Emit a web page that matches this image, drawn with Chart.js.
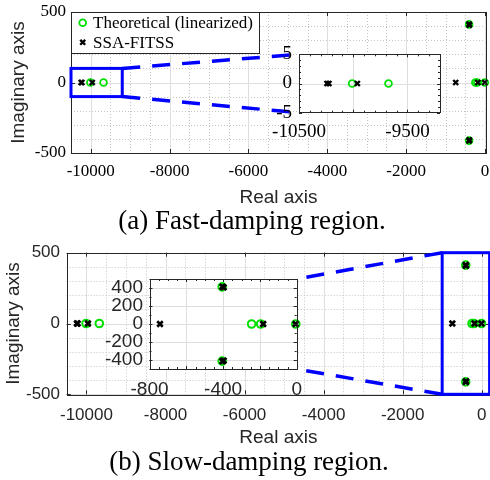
<!DOCTYPE html>
<html><head><meta charset="utf-8">
<script src="https://cdn.jsdelivr.net/npm/chart.js@4.4.0/dist/chart.umd.min.js"></script>
<style>
html,body{margin:0;padding:0;background:#fff;}
#wrap{position:relative;width:490px;height:480px;overflow:hidden;background:#fff;}
canvas{position:absolute;}
</style></head><body><div id="wrap">
<canvas id="mainA"></canvas>
<canvas id="mainB"></canvas>
<canvas id="insetA"></canvas>
<canvas id="insetB"></canvas>
</div>
<script>
// ---------------- data ----------------
const seriesNames = ['Theoretical (linearized)', 'SSA-FITSS'];
const theoReal = [-10010, -9675, -405, -405, -245, -196, -5];
const theoImag = [0, 0, 412, -412, 0, 0, 0];
const ssaReal = [-10242, -10224, -9962, -743, -404, -397, -404, -397, -182, -6];
const ssaImag = [0, 0, 0, 0, 414, 407, -414, -407, 0, 0];
const xTicksMain = [-10000, -8000, -6000, -4000, -2000, 0];
const yTicksMain = [-500, 0, 500];
const xTicksInsetA = [-10500, -9500];
const yTicksInsetA = [-5, 0, 5];
const xTicksInsetB = [-800, -400, 0];
const yTicksInsetB = [-400, -200, 0, 200, 400];
const captions = ['(a) Fast-damping region.', '(b) Slow-damping region.'];
const axisTitles = ['Real axis', 'Imaginary axis'];

// ---------------- styling ----------------
const SERIF = 'Liberation Serif';
const SANS = 'Liberation Sans';
const GREEN = '#00e000';
const BLUE = '#0000ff';
const AXC = '#262626';
Chart.defaults.font.family = SANS;

const box = {
  mainA: {left: 0, top: 0, w: 490, h: 240},
  mainB: {left: 0, top: 240, w: 490, h: 240},
  insetA: {left: 270, top: 45, w: 178, h: 95},
  insetB: {left: 95, top: 270, w: 212, h: 130}
};
for (const id in box) {
  const c = document.getElementById(id), b = box[id];
  c.width = b.w; c.height = b.h;
  c.style.left = b.left + 'px'; c.style.top = b.top + 'px';
}

const range = (a, b, s) => { const r = []; for (let v = a; v <= b + 1e-9; v += s) r.push(v); return r; };
const toXY = (re, im) => re.map((v, i) => ({x: v, y: im[i]}));

// --------- plugin: MATLAB-like axes (grid, frame, ticks) ---------
const axesPlugin = {
  id: 'matlabAxes',
  beforeDatasetsDraw(chart, args, o) {
    const {ctx, chartArea: a} = chart;
    const xs = chart.scales.x, ys = chart.scales.y;
    ctx.save();
    ctx.fillStyle = '#ffffff';
    ctx.fillRect(a.left, a.top, a.right - a.left, a.bottom - a.top);
    ctx.lineWidth = 1;
    const vl = (v) => { const p = Math.round(xs.getPixelForValue(v)) + 0.5; ctx.beginPath(); ctx.moveTo(p, a.top); ctx.lineTo(p, a.bottom); ctx.stroke(); };
    const hl = (v) => { const p = Math.round(ys.getPixelForValue(v)) + 0.5; ctx.beginPath(); ctx.moveTo(a.left, p); ctx.lineTo(a.right, p); ctx.stroke(); };
    ctx.strokeStyle = '#c4c4c4'; ctx.setLineDash([1, 2]);
    (o.xMinor || []).forEach(vl); (o.yMinor || []).forEach(hl);
    ctx.strokeStyle = '#dedede'; ctx.setLineDash([]);
    (o.xGrid || []).forEach(vl); (o.yGrid || []).forEach(hl);
    ctx.restore();
  },
  afterDatasetsDraw(chart, args, o) {
    const {ctx, chartArea: a} = chart;
    const xs = chart.scales.x, ys = chart.scales.y;
    ctx.save();
    ctx.strokeStyle = AXC; ctx.lineWidth = 1;
    const tickX = (v, len) => { const p = Math.round(xs.getPixelForValue(v)) + 0.5; ctx.beginPath(); ctx.moveTo(p, a.bottom); ctx.lineTo(p, a.bottom - len); ctx.moveTo(p, a.top); ctx.lineTo(p, a.top + len); ctx.stroke(); };
    const tickY = (v, len) => { const p = Math.round(ys.getPixelForValue(v)) + 0.5; ctx.beginPath(); ctx.moveTo(a.left, p); ctx.lineTo(a.left + len, p); ctx.moveTo(a.right, p); ctx.lineTo(a.right - len, p); ctx.stroke(); };
    (o.xMinorTicks || []).forEach(v => tickX(v, o.minorLen));
    (o.yMinorTicks || []).forEach(v => tickY(v, o.minorLen));
    (o.xTicks || []).forEach(v => tickX(v, o.majorLen));
    (o.yTicks || []).forEach(v => tickY(v, o.majorLen));
    ctx.strokeRect(Math.round(a.left) + 0.5, Math.round(a.top) + 0.5, Math.round(a.right - a.left), Math.round(a.bottom - a.top));
    ctx.restore();
  }
};

// --------- plugin: legend box ---------
const legendPlugin = {
  id: 'legendBox',
  afterDatasetsDraw(chart, args, o) {
    if (!o.show) return;
    const {ctx, chartArea: a} = chart;
    ctx.save();
    const x0 = Math.round(a.left) + 0.5, y0 = Math.round(a.top) + 0.5;
    ctx.fillStyle = '#fff'; ctx.strokeStyle = AXC; ctx.lineWidth = 1;
    ctx.fillRect(x0, y0, o.w, o.h); ctx.strokeRect(x0, y0, o.w, o.h);
    ctx.font = o.font; ctx.textBaseline = 'middle'; ctx.textAlign = 'left';
    chart.data.datasets.forEach((ds, i) => {
      const my = a.top + o.rows[i];
      const mx = a.left + o.markX;
      ctx.strokeStyle = ds.pointBorderColor; ctx.fillStyle = ds.pointBackgroundColor; ctx.lineWidth = ds.pointBorderWidth;
      Chart.helpers.drawPoint(ctx, {pointStyle: ds.pointStyle, radius: ds.pointRadius, borderWidth: ds.pointBorderWidth, rotation: 0}, mx, my);
      ctx.fillStyle = '#000';
      ctx.fillText(ds.label, a.left + o.textX, my + 1);
    });
    ctx.restore();
  }
};

// --------- plugin: caption under panel ---------
const captionPlugin = {
  id: 'caption',
  afterDraw(chart, args, o) {
    if (!o.text) return;
    const {ctx} = chart;
    ctx.save();
    ctx.font = o.font; ctx.fillStyle = '#000'; ctx.textAlign = 'center'; ctx.textBaseline = 'middle';
    ctx.fillText(o.text, o.x, o.y);
    ctx.restore();
  }
};

// --------- plugin: zoom rectangle + dashed connectors ---------
const charts = {};
const zoomPlugin = {
  id: 'zoomLinks',
  afterDraw(chart, args, o) {
    if (!o.rect) return;
    const {ctx} = chart; const xs = chart.scales.x, ys = chart.scales.y;
    const me = box[o.self], ib = box[o.inset], ia = charts[o.inset].chartArea;
    ctx.save();
    ctx.strokeStyle = BLUE;
    ctx.lineWidth = 3.5; ctx.setLineDash([18, 12]);
    o.links.forEach(([dx, dy, cx, cy]) => {
      const tx = ib.left - me.left + (cx === 'l' ? ia.left : ia.right);
      const ty = ib.top - me.top + (cy === 't' ? ia.top : ia.bottom);
      ctx.beginPath(); ctx.moveTo(xs.getPixelForValue(dx), ys.getPixelForValue(dy)); ctx.lineTo(tx, ty); ctx.stroke();
    });
    ctx.setLineDash([]); ctx.lineWidth = 3;
    const [x0, x1, y0, y1] = o.rect;
    const px0 = xs.getPixelForValue(x0), px1 = xs.getPixelForValue(x1), py0 = ys.getPixelForValue(y0), py1 = ys.getPixelForValue(y1);
    ctx.strokeRect(px0, py1, px1 - px0, py0 - py1);
    ctx.restore();
  }
};

// --------- helpers ---------
function mkScale(p) {
  return {
    type: 'linear', min: p.min, max: p.max, position: p.axis === 'x' ? 'bottom' : 'left',
    grid: {display: false, drawTicks: false},
    border: {display: false},
    afterBuildTicks: s => { s.ticks = p.ticks.map(v => ({value: v})); },
    afterFit: s => {
      if (p.axis === 'x') s.height = p.fit; else s.width = p.fit;
      s.paddingLeft = 0; s.paddingRight = 0; s.paddingTop = 0; s.paddingBottom = 0;
    },
    ticks: {autoSkip: false, maxRotation: 0, minRotation: 0, padding: p.pad, color: p.color || '#000', font: p.font, callback: v => String(v)},
    title: p.title ? {display: true, text: p.title, color: AXC, font: p.titleFont, padding: p.titlePad} : {display: false}
  };
}
function datasets(m) {
  return [
    {label: seriesNames[0], data: toXY(theoReal, theoImag), pointStyle: 'circle', pointRadius: m.cr, pointHoverRadius: m.cr,
     pointBorderWidth: m.cw, borderWidth: m.cw, borderColor: GREEN, pointBorderColor: GREEN,
     backgroundColor: 'rgba(0,0,0,0)', pointBackgroundColor: 'rgba(0,0,0,0)', showLine: false, clip: 8, order: 2},
    {label: seriesNames[1], data: toXY(ssaReal, ssaImag), pointStyle: 'crossRot', pointRadius: m.xr, pointHoverRadius: m.xr,
     pointBorderWidth: m.xw, borderWidth: m.xw, borderColor: '#000', pointBorderColor: '#000',
     backgroundColor: '#000', pointBackgroundColor: '#000', showLine: false, clip: 8, order: 1}
  ];
}
function make(id, c) {
  charts[id] = new Chart(document.getElementById(id), {
    type: 'scatter',
    data: {datasets: datasets(c.marks)},
    options: {
      responsive: false, animation: false, devicePixelRatio: 1,
      layout: {padding: c.padding, autoPadding: false},
      scales: {x: c.x, y: c.y},
      events: [],
      plugins: {
        legend: {display: false}, tooltip: {enabled: false}, title: {display: false},
        matlabAxes: c.axes,
        legendBox: c.legend || {show: false},
        caption: c.caption || {},
        zoomLinks: c.zoom || {}
      }
    },
    plugins: [axesPlugin, legendPlugin, captionPlugin, zoomPlugin]
  });
}

// --------- insets ---------
make('insetA', {
  marks: {cr: 3.4, cw: 1.8, xr: 3.5, xw: 2.4},
  padding: {top: 9.3, right: 8, left: 0, bottom: 0},
  x: mkScale({axis: 'x', min: -10500, max: -9200, ticks: xTicksInsetA, font: {family: SERIF, size: 19}, pad: 8, fit: 27.3}),
  y: mkScale({axis: 'y', min: -5, max: 5, ticks: yTicksInsetA, font: {family: SERIF, size: 19}, pad: 7, fit: 29}),
  axes: {xGrid: [-10500, -10000, -9500], yGrid: [0], xTicks: [-10500, -10000, -9500], yTicks: yTicksInsetA,
         xMinorTicks: range(-10500, -9200, 100), yMinorTicks: range(-5, 5, 1), majorLen: 3, minorLen: 2}
});
make('insetB', {
  marks: {cr: 3.8, cw: 2, xr: 3.9, xw: 2.6},
  padding: {top: 9, right: 10.3, left: 0, bottom: 0},
  x: mkScale({axis: 'x', min: -800, max: 0, ticks: xTicksInsetB, font: {family: SANS, size: 19}, pad: 9.6, color: AXC, fit: 31}),
  y: mkScale({axis: 'y', min: -500, max: 500, ticks: yTicksInsetB, font: {family: SANS, size: 19}, pad: 6.5, color: AXC, fit: 54.5}),
  axes: {xGrid: range(-800, 0, 200), yGrid: yTicksInsetB, xTicks: range(-800, 0, 200), yTicks: yTicksInsetB,
         xMinorTicks: range(-800, 0, 50), yMinorTicks: range(-500, 500, 100), majorLen: 3, minorLen: 2}
});

// --------- main panels ---------
make('mainA', {
  marks: {cr: 3.4, cw: 1.8, xr: 3.5, xw: 2.4},
  padding: {top: 12, right: 4, left: 0, bottom: 0},
  caption: {text: captions[0], x: 252, y: 222, font: '27px "' + SERIF + '"'},
  x: mkScale({axis: 'x', min: -10500, max: 25, ticks: xTicksMain, font: {family: SERIF, size: 17}, pad: 8.5,
              title: axisTitles[0], titleFont: {family: SANS, size: 19}, titlePad: {top: 0, bottom: 31.1}, fit: 87}),
  y: mkScale({axis: 'y', min: -500, max: 500, ticks: yTicksMain, font: {family: SERIF, size: 17}, pad: 5,
              title: axisTitles[1], titleFont: {family: SANS, size: 19}, titlePad: {top: 7, bottom: 0}, fit: 71}),
  axes: {xGrid: xTicksMain, yGrid: yTicksMain, xMinor: range(-10500, 0, 500), yMinor: range(-500, 500, 100),
         xTicks: xTicksMain, yTicks: yTicksMain, majorLen: 4, minorLen: 0},
  legend: {show: true, w: 188, h: 41, rows: [10.7, 30.3], markX: 11.7, textX: 22, font: '17px "' + SERIF + '"'},
  zoom: {self: 'mainA', inset: 'insetA', rect: [-10500, -9200, -100, 100],
         links: [[-9200, 100, 'l', 't'], [-9200, -100, 'l', 'b']]}
});
make('mainB', {
  marks: {cr: 3.8, cw: 2, xr: 3.9, xw: 2.6},
  padding: {top: 12.7, right: 0, left: 0, bottom: 0},
  caption: {text: captions[1], x: 249, y: 223, font: '27px "' + SERIF + '"'},
  x: mkScale({axis: 'x', min: -10500, max: 210, ticks: xTicksMain, font: {family: SANS, size: 17}, pad: 11, color: AXC,
              title: axisTitles[0], titleFont: {family: SANS, size: 19}, titlePad: {top: 0, bottom: 31.1}, fit: 85.7}),
  y: mkScale({axis: 'y', min: -500, max: 500, ticks: yTicksMain, font: {family: SANS, size: 17}, pad: 6.7, color: AXC,
              title: axisTitles[1], titleFont: {family: SANS, size: 19}, titlePad: {top: 2.6, bottom: 0}, fit: 66.7}),
  axes: {xGrid: xTicksMain, yGrid: yTicksMain, xMinor: range(-10500, 0, 500), yMinor: range(-500, 500, 100),
         xTicks: xTicksMain, yTicks: yTicksMain, majorLen: 4, minorLen: 0},
  zoom: {self: 'mainB', inset: 'insetB', rect: [-1000, 200, -500, 500],
         links: [[-1000, 500, 'r', 't'], [-1000, -500, 'r', 'b']]}
});
</script>
</body></html>
